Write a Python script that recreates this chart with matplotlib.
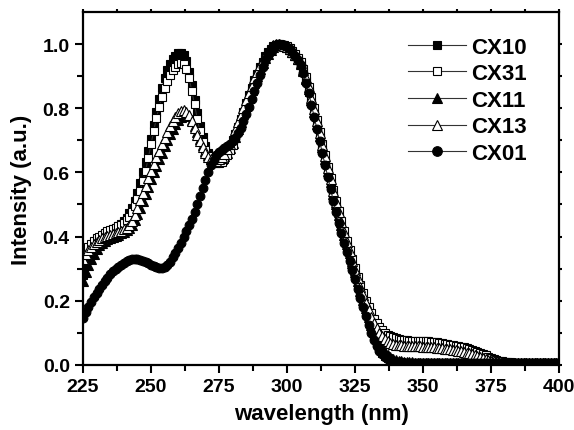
import matplotlib
matplotlib.use("Agg")
import matplotlib.pyplot as plt
import numpy as np

plt.rcParams['font.family'] = ['Liberation Sans', 'DejaVu Sans']
plt.rcParams['font.weight'] = 'bold'

# wavelength grid (nm), one point per nm
wavelength = np.arange(225, 401)

cx10 = [0.28, 0.31, 0.335, 0.355, 0.37, 0.382, 0.392, 0.4, 0.407, 0.413,
        0.418, 0.423, 0.428, 0.433, 0.439, 0.447, 0.458, 0.472, 0.49, 0.512,
        0.537, 0.567, 0.6, 0.632, 0.668, 0.705, 0.748, 0.79, 0.828, 0.863,
        0.893, 0.918, 0.938, 0.953, 0.964, 0.971, 0.974, 0.967, 0.947, 0.914,
        0.872, 0.827, 0.784, 0.744, 0.71, 0.682, 0.662, 0.649, 0.641, 0.638,
        0.64, 0.646, 0.655, 0.667, 0.682, 0.7, 0.72, 0.742, 0.766, 0.79,
        0.815, 0.84, 0.864, 0.887, 0.908, 0.928, 0.946, 0.962, 0.975, 0.986,
        0.994, 0.999, 1.0, 0.998, 0.995, 0.99, 0.983, 0.974, 0.963, 0.95,
        0.935, 0.912, 0.884, 0.852, 0.817, 0.78, 0.743, 0.706, 0.669, 0.632,
        0.596, 0.56, 0.525, 0.49, 0.457, 0.425, 0.395, 0.366, 0.337, 0.308,
        0.279, 0.25, 0.221, 0.192, 0.164, 0.137, 0.111, 0.088, 0.068, 0.051,
        0.038, 0.028, 0.021, 0.015, 0.011, 0.009, 0.008, 0.007, 0.006, 0.006,
        0.006, 0.006, 0.006, 0.006, 0.006, 0.006, 0.006, 0.006, 0.006, 0.006,
        0.005, 0.005, 0.005, 0.005, 0.005, 0.005, 0.005, 0.005, 0.005, 0.005,
        0.005, 0.005, 0.005, 0.005, 0.005, 0.005, 0.005, 0.005, 0.005, 0.005,
        0.005, 0.005, 0.005, 0.005, 0.005, 0.005, 0.005, 0.005, 0.005, 0.005,
        0.004, 0.004, 0.004, 0.004, 0.004, 0.004, 0.004, 0.004, 0.004, 0.004,
        0.004, 0.004, 0.004, 0.004, 0.004, 0.004]

cx31 = [0.34, 0.355, 0.368, 0.378, 0.387, 0.394, 0.4, 0.406, 0.411, 0.416,
        0.42, 0.424, 0.428, 0.432, 0.437, 0.443, 0.451, 0.462, 0.476, 0.494,
        0.516, 0.542, 0.572, 0.605, 0.645, 0.688, 0.73, 0.77, 0.805, 0.835,
        0.862, 0.885, 0.903, 0.918, 0.93, 0.937, 0.94, 0.937, 0.922, 0.893,
        0.855, 0.812, 0.768, 0.728, 0.695, 0.67, 0.652, 0.64, 0.633, 0.63,
        0.63, 0.634, 0.642, 0.654, 0.669, 0.687, 0.708, 0.731, 0.755, 0.78,
        0.805, 0.83, 0.855, 0.878, 0.9, 0.92, 0.938, 0.955, 0.969, 0.981,
        0.99, 0.996, 1.0, 0.999, 0.997, 0.993, 0.987, 0.979, 0.969, 0.957,
        0.943, 0.923, 0.898, 0.868, 0.835, 0.8, 0.764, 0.727, 0.69, 0.653,
        0.617, 0.581, 0.546, 0.512, 0.479, 0.447, 0.416, 0.386, 0.357, 0.329,
        0.301, 0.274, 0.248, 0.223, 0.2, 0.179, 0.16, 0.144, 0.13, 0.118,
        0.108, 0.1, 0.094, 0.089, 0.085, 0.082, 0.08, 0.078, 0.077, 0.076,
        0.075, 0.075, 0.075, 0.075, 0.075, 0.075, 0.074, 0.073, 0.072, 0.071,
        0.07, 0.068, 0.067, 0.065, 0.064, 0.062, 0.061, 0.059, 0.058, 0.056,
        0.054, 0.052, 0.05, 0.047, 0.044, 0.041, 0.037, 0.033, 0.029, 0.025,
        0.021, 0.018, 0.015, 0.012, 0.01, 0.009, 0.008, 0.007, 0.006, 0.005,
        0.005, 0.005, 0.005, 0.005, 0.005, 0.005, 0.005, 0.005, 0.005, 0.005,
        0.005, 0.005, 0.004, 0.004, 0.004, 0.004]

cx11 = [0.26, 0.29, 0.312, 0.33, 0.345, 0.36, 0.372, 0.38, 0.386, 0.391,
        0.395, 0.399, 0.403, 0.406, 0.41, 0.414, 0.419, 0.426, 0.437, 0.452,
        0.47, 0.49, 0.512, 0.534, 0.556, 0.578, 0.6, 0.621, 0.642, 0.662,
        0.682, 0.701, 0.719, 0.736, 0.751, 0.764, 0.774, 0.78, 0.781, 0.775,
        0.762, 0.745, 0.725, 0.704, 0.684, 0.667, 0.653, 0.643, 0.637, 0.635,
        0.637, 0.642, 0.65, 0.661, 0.675, 0.692, 0.712, 0.734, 0.757, 0.781,
        0.806, 0.831, 0.856, 0.88, 0.902, 0.922, 0.94, 0.956, 0.97, 0.982,
        0.991, 0.997, 1.0, 0.999, 0.996, 0.991, 0.985, 0.977, 0.966, 0.953,
        0.938, 0.917, 0.89, 0.859, 0.825, 0.789, 0.752, 0.715, 0.678, 0.641,
        0.605, 0.569, 0.534, 0.5, 0.467, 0.435, 0.405, 0.376, 0.347, 0.318,
        0.289, 0.26, 0.231, 0.203, 0.176, 0.15, 0.125, 0.102, 0.082, 0.065,
        0.051, 0.04, 0.031, 0.024, 0.019, 0.015, 0.012, 0.01, 0.009, 0.008,
        0.007, 0.007, 0.006, 0.006, 0.006, 0.006, 0.006, 0.006, 0.006, 0.006,
        0.005, 0.005, 0.005, 0.005, 0.005, 0.005, 0.005, 0.005, 0.005, 0.005,
        0.005, 0.005, 0.005, 0.005, 0.005, 0.005, 0.005, 0.005, 0.005, 0.005,
        0.005, 0.005, 0.005, 0.005, 0.005, 0.005, 0.005, 0.005, 0.005, 0.005,
        0.005, 0.005, 0.005, 0.005, 0.005, 0.005, 0.005, 0.005, 0.005, 0.005,
        0.004, 0.004, 0.004, 0.004, 0.004, 0.004]

cx13 = [0.33, 0.345, 0.358, 0.368, 0.376, 0.383, 0.389, 0.394, 0.398, 0.402,
        0.405, 0.408, 0.411, 0.414, 0.418, 0.422, 0.427, 0.436, 0.449, 0.467,
        0.49, 0.513, 0.536, 0.559, 0.581, 0.603, 0.625, 0.647, 0.668, 0.688,
        0.708, 0.727, 0.744, 0.76, 0.774, 0.785, 0.792, 0.795, 0.79, 0.778,
        0.76, 0.74, 0.718, 0.697, 0.678, 0.661, 0.649, 0.641, 0.637, 0.637,
        0.641, 0.648, 0.658, 0.672, 0.69, 0.71, 0.733, 0.756, 0.779, 0.802,
        0.825, 0.848, 0.871, 0.893, 0.914, 0.934, 0.951, 0.966, 0.979, 0.989,
        0.996, 1.0, 0.999, 0.997, 0.994, 0.99, 0.984, 0.976, 0.966, 0.954,
        0.94, 0.92, 0.895, 0.865, 0.832, 0.797, 0.761, 0.724, 0.687, 0.65,
        0.614, 0.578, 0.543, 0.509, 0.476, 0.444, 0.413, 0.383, 0.354, 0.325,
        0.297, 0.27, 0.243, 0.217, 0.193, 0.17, 0.149, 0.13, 0.114, 0.1,
        0.089, 0.08, 0.074, 0.069, 0.066, 0.063, 0.061, 0.06, 0.059, 0.058,
        0.058, 0.057, 0.057, 0.057, 0.057, 0.056, 0.056, 0.055, 0.055, 0.054,
        0.053, 0.052, 0.051, 0.05, 0.049, 0.048, 0.046, 0.045, 0.043, 0.042,
        0.04, 0.038, 0.036, 0.033, 0.03, 0.027, 0.024, 0.021, 0.018, 0.015,
        0.012, 0.01, 0.008, 0.007, 0.006, 0.005, 0.005, 0.005, 0.005, 0.005,
        0.005, 0.005, 0.005, 0.005, 0.005, 0.005, 0.005, 0.005, 0.005, 0.005,
        0.005, 0.004, 0.004, 0.004, 0.004, 0.004]

cx01 = [0.145, 0.165, 0.18, 0.195, 0.21, 0.224, 0.237, 0.25, 0.262, 0.272,
        0.282, 0.291, 0.299, 0.306, 0.312, 0.318, 0.323, 0.327, 0.329, 0.33,
        0.33, 0.328, 0.325, 0.321, 0.316, 0.311, 0.307, 0.304, 0.302, 0.302,
        0.305, 0.311, 0.32, 0.335, 0.35, 0.365, 0.38, 0.4, 0.418, 0.436,
        0.456, 0.478, 0.5, 0.525, 0.55, 0.575, 0.6, 0.622, 0.64, 0.653,
        0.663, 0.671, 0.677, 0.682, 0.688, 0.697, 0.708, 0.722, 0.74, 0.76,
        0.782, 0.805, 0.83, 0.855, 0.88, 0.905, 0.928, 0.95, 0.968, 0.982,
        0.992, 0.998, 1.0, 0.999, 0.996, 0.991, 0.984, 0.975, 0.963, 0.95,
        0.935, 0.91, 0.88, 0.847, 0.81, 0.772, 0.735, 0.697, 0.66, 0.622,
        0.585, 0.548, 0.512, 0.477, 0.443, 0.41, 0.38, 0.352, 0.323, 0.295,
        0.266, 0.237, 0.208, 0.18, 0.152, 0.125, 0.1, 0.078, 0.059, 0.044,
        0.033, 0.025, 0.019, 0.014, 0.011, 0.009, 0.008, 0.007, 0.006, 0.006,
        0.006, 0.006, 0.006, 0.006, 0.006, 0.006, 0.006, 0.006, 0.006, 0.006,
        0.005, 0.005, 0.005, 0.005, 0.005, 0.005, 0.005, 0.005, 0.005, 0.005,
        0.005, 0.005, 0.005, 0.005, 0.005, 0.005, 0.005, 0.005, 0.005, 0.005,
        0.005, 0.005, 0.005, 0.005, 0.005, 0.005, 0.005, 0.005, 0.005, 0.005,
        0.004, 0.004, 0.004, 0.004, 0.004, 0.004, 0.004, 0.004, 0.004, 0.004,
        0.004, 0.004, 0.004, 0.004, 0.004, 0.004]

labels = ['CX10', 'CX31', 'CX11', 'CX13', 'CX01']
xticks = [225, 250, 275, 300, 325, 350, 375, 400]
yticks = [0.0, 0.2, 0.4, 0.6, 0.8, 1.0]

fig = plt.figure(figsize=(5.74, 4.31), dpi=100)
ax = fig.add_axes([0.1446, 0.1515, 0.8293, 0.818])

line_kw = dict(color='#333333', lw=0.8, mec='black', mew=0.8)
h10, = ax.plot(wavelength, cx10, marker='s', ms=5.8, mfc='black', label='CX10', **line_kw)
h11, = ax.plot(wavelength, cx11, marker='^', ms=6.8, mfc='black', label='CX11', **line_kw)
h31, = ax.plot(wavelength, cx31, marker='s', ms=5.8, mfc='white', label='CX31', **line_kw)
h13, = ax.plot(wavelength, cx13, marker='^', ms=6.8, mfc='white', label='CX13', **line_kw)
h01, = ax.plot(wavelength, cx01, marker='o', ms=6.3, mfc='black', label='CX01', **line_kw)

ax.set_xlim(225, 400)
ax.set_ylim(0, 1.1)
ax.set_xticks(xticks)
ax.set_yticks(yticks)
ax.set_yticklabels(['%.1f' % v for v in yticks])
ax.set_xticks(np.arange(237.5, 400, 25), minor=True)
ax.set_yticks([0.1, 0.3, 0.5, 0.7, 0.9], minor=True)

for s in ax.spines.values():
    s.set_linewidth(1.6)
ax.tick_params(which='major', direction='out', length=6, width=1.5, labelsize=14,
               bottom=True, left=True, top=True, right=True)
ax.tick_params(which='minor', direction='out', length=4, width=1.5,
               bottom=True, left=True, top=True, right=True)
# small marks on the top and right frame
for t in ax.xaxis.get_major_ticks() + ax.xaxis.get_minor_ticks():
    t.tick2line.set_markersize(2.5)
for t in ax.yaxis.get_major_ticks() + ax.yaxis.get_minor_ticks():
    t.tick2line.set_markersize(2.5)

ax.set_xlabel('wavelength (nm)', fontsize=16, fontweight='bold', labelpad=6)
ax.set_ylabel('Intensity (a.u.)', fontsize=16, fontweight='bold', labelpad=8)

leg = ax.legend([h10, h31, h11, h13, h01], labels, loc='upper left',
                bbox_to_anchor=(0.66, 0.962), frameon=False, fontsize=16,
                handlelength=2.6, handletextpad=0.25, labelspacing=0.25,
                borderpad=0, markerscale=1.1)
for t in leg.get_texts():
    t.set_fontweight('bold')

fig.savefig('out.png', dpi=100)
